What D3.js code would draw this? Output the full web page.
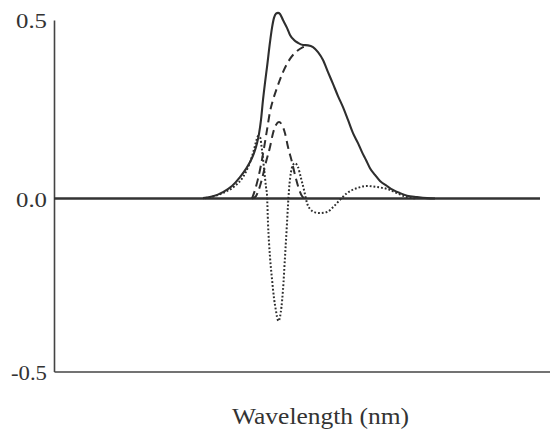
<!DOCTYPE html>
<html>
<head>
<meta charset="utf-8">
<script src="https://cdn.jsdelivr.net/npm/d3@7"></script>
<style>
  html, body { margin: 0; padding: 0; background: #fff; }
  svg { display: block; }
  .serif { font-family: "Liberation Serif", "Times New Roman", Times, serif; }
</style>
</head>
<body>
<svg id="chart" width="550" height="435"></svg>
<script>
// Measured spectrum (solid) and its component / derivative traces.
// x: wavelength in nm, y: signal.
const measuredWl  = [449, 459, 469, 478, 486, 492, 496, 500, 503, 505, 507, 509, 511, 513, 516, 518, 520, 522, 524, 526, 529, 533, 536, 540, 544, 549, 554, 559, 564, 569, 574, 579, 584, 589, 594, 599, 604, 608, 612, 616, 621, 626, 633, 639, 646, 653, 663, 673, 681];
const measuredVal = [0.001, 0.006, 0.018, 0.035, 0.060, 0.083, 0.102, 0.127, 0.155, 0.181, 0.220, 0.276, 0.324, 0.368, 0.438, 0.478, 0.506, 0.518, 0.520, 0.517, 0.500, 0.478, 0.458, 0.444, 0.436, 0.430, 0.429, 0.424, 0.410, 0.388, 0.354, 0.321, 0.287, 0.256, 0.220, 0.183, 0.155, 0.130, 0.108, 0.085, 0.066, 0.049, 0.035, 0.024, 0.015, 0.008, 0.004, 0.001, 0.000];

// Broad component (dashed) up to where it joins the measured curve.
const broadWl  = [498, 501, 504, 507, 510, 513, 516, 519, 523, 529, 536, 543, 549, 554];
const broadVal = [0.000, 0.024, 0.055, 0.094, 0.141, 0.192, 0.243, 0.276, 0.310, 0.354, 0.391, 0.413, 0.424, 0.429];

// Narrow component (dashed).
const narrowWl  = [498, 502, 506, 509, 512, 516, 519, 522, 525, 528, 531, 534, 538, 541, 544, 548, 551];
const narrowVal = [0.000, 0.007, 0.035, 0.066, 0.102, 0.144, 0.183, 0.206, 0.214, 0.206, 0.183, 0.144, 0.102, 0.066, 0.035, 0.007, 0.000];

// Derivative trace (dotted).
const derivWl  = [451, 461, 471, 481, 489, 495, 499, 502, 504, 506, 508, 510, 512, 513, 514, 516, 518, 520, 522, 523, 524.5, 526, 529, 531, 533, 534, 535, 537, 539, 541, 544, 547, 550, 553, 556, 561, 566, 573, 579, 586, 593, 603, 613, 623, 633, 643, 653, 663];
const derivVal = [0.001, 0.007, 0.018, 0.035, 0.060, 0.094, 0.127, 0.158, 0.175, 0.172, 0.136, 0.085, 0.032, 0.010, -0.071, -0.169, -0.233, -0.288, -0.325, -0.342, -0.354, -0.342, -0.264, -0.169, -0.071, -0.019, 0.024, 0.074, 0.094, 0.099, 0.088, 0.057, 0.024, -0.013, -0.030, -0.040, -0.042, -0.039, -0.025, -0.004, 0.015, 0.029, 0.035, 0.032, 0.027, 0.015, 0.004, 0.000];

const yTicks = [-0.5, 0.0, 0.5];
const xTitle = "Wavelength (nm)";

const svg = d3.select("#chart");
const ink = "#2e2e2e";

const x = d3.scaleLinear().domain([300, 800]).range([54, 554]);
const y = d3.scaleLinear().domain([-0.5, 0, 0.5]).range([371.5, 198.5, 20]);

const toPts = (xs, ys) => xs.map((w, i) => [w, ys[i]]);
const line = d3.line()
  .x(d => x(d[0]))
  .y(d => y(d[1]))
  .curve(d3.curveMonotoneX);

// bottom frame line at -0.5
const xAxis = svg.append("g")
  .attr("transform", `translate(0,${y(-0.5)})`)
  .call(d3.axisBottom(x).tickValues([]).tickSizeOuter(0));
xAxis.select(".domain").attr("stroke", "#444").attr("stroke-width", 1.6);

// left axis with value labels
const yAxis = svg.append("g")
  .attr("transform", `translate(${x(300)},0)`)
  .call(d3.axisLeft(y).tickValues(yTicks).tickSize(0).tickPadding(7)
    .tickFormat(d => d.toFixed(1)));
yAxis.attr("font-family", null).attr("font-size", null);
yAxis.select(".domain").attr("stroke", "#444").attr("stroke-width", 1.6);
yAxis.selectAll(".tick text")
  .attr("class", "serif")
  .style("font-size", "21px")
  .attr("fill", "#333")
  .attr("dy", "0.36em")
  .attr("textLength", d => d < 0 ? 36 : 31)
  .attr("lengthAdjust", "spacingAndGlyphs");

// zero baseline
svg.append("line")
  .attr("x1", x(300)).attr("x2", x(786))
  .attr("y1", y(0)).attr("y2", y(0))
  .attr("stroke", "#333").attr("stroke-width", 2.6);

// traces
svg.append("path").datum(toPts(derivWl, derivVal))
  .attr("d", line).attr("fill", "none")
  .attr("stroke", ink).attr("stroke-width", 2)
  .attr("stroke-dasharray", "1.8,2");

svg.append("path").datum(toPts(narrowWl, narrowVal))
  .attr("d", line).attr("fill", "none")
  .attr("stroke", ink).attr("stroke-width", 2)
  .attr("stroke-dasharray", "8,5");

svg.append("path").datum(toPts(broadWl, broadVal))
  .attr("d", line).attr("fill", "none")
  .attr("stroke", ink).attr("stroke-width", 2)
  .attr("stroke-dasharray", "8,5");

svg.append("path").datum(toPts(measuredWl, measuredVal))
  .attr("d", line).attr("fill", "none")
  .attr("stroke", ink).attr("stroke-width", 2.1)
  .attr("stroke-linejoin", "round");

// axis title
svg.append("text")
  .attr("class", "serif")
  .attr("x", 320.5).attr("y", 424)
  .attr("text-anchor", "middle")
  .style("font-size", "23px")
  .attr("fill", "#333")
  .attr("textLength", 177)
  .attr("lengthAdjust", "spacingAndGlyphs")
  .text(xTitle);
</script>
</body>
</html>
